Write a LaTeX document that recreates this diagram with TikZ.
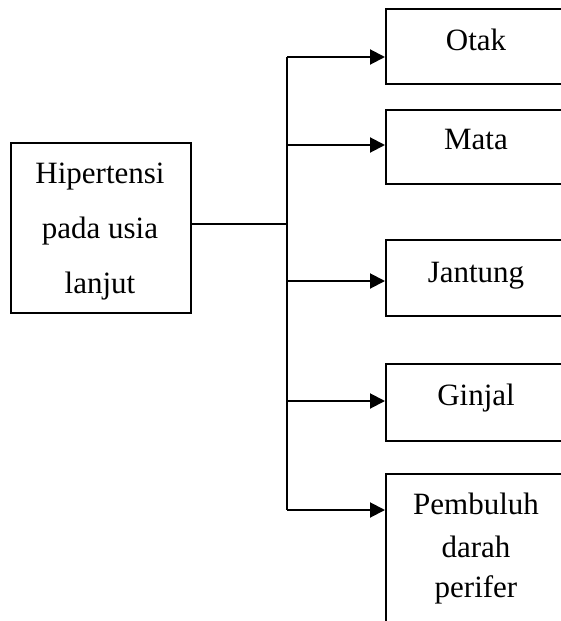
\documentclass[tikz,border=0pt]{standalone}
\usepackage{fontspec}
\setmainfont{Liberation Serif}
\usetikzlibrary{arrows.meta}
\begin{document}
\begin{tikzpicture}[x=1pt,y=-1pt,
  every node/.style={font=\fontsize{31}{42}\selectfont},
  box/.style={draw,line width=2pt,inner sep=0pt,minimum width=180pt},
  txt/.style={inner sep=0pt,anchor=base,align=center},
  ln/.style={line width=2pt},
  arr/.style={line width=2pt,-{Triangle[length=15pt,width=15pt]}}]
\clip (0,0) rectangle (561,621);
\fill[white] (0,0) rectangle (561,621);
% left box
\node[box,minimum height=170pt] (h) at (101,228) {};
\node[txt] (h1) at (100,183) {Hipertensi};
\node[txt] (h2) at (100,238) {pada usia};
\node[txt] (h3) at (100,293) {lanjut};
% right boxes
\node[box,minimum height=75pt] (o) at (476,46.5) {};
\node[txt] (ot) at (476,50) {Otak};
\node[box,minimum height=74pt] (m) at (476,147) {};
\node[txt] (mt) at (476,149) {Mata};
\node[box,minimum height=76pt] (j) at (476,278) {};
\node[txt] (jt) at (476,282) {Jantung};
\node[box,minimum height=77pt] (g) at (476,402.5) {};
\node[txt] (gt) at (476,405) {Ginjal};
\node[box,minimum height=180pt,anchor=north] (p) at (476,473) {};
\node[txt] (pt1) at (476,514) {Pembuluh};
\node[txt] (pt2) at (476,557) {darah};
\node[txt] (pt3) at (476,597) {perifer};
% connectors
\coordinate (c) at (287,224);
\coordinate (a1) at (287,57);
\coordinate (a2) at (287,145);
\coordinate (a3) at (287,281);
\coordinate (a4) at (287,401);
\coordinate (a5) at (287,510);
\draw[ln] (c -| h.east) -- (c);
\draw[ln] (a1) -- (a5);
\draw[arr] (a1) -- (a1 -| o.west);
\draw[arr] (a2) -- (a2 -| m.west);
\draw[arr] (a3) -- (a3 -| j.west);
\draw[arr] (a4) -- (a4 -| g.west);
\draw[arr] (a5) -- (a5 -| p.west);
\end{tikzpicture}
\end{document}
